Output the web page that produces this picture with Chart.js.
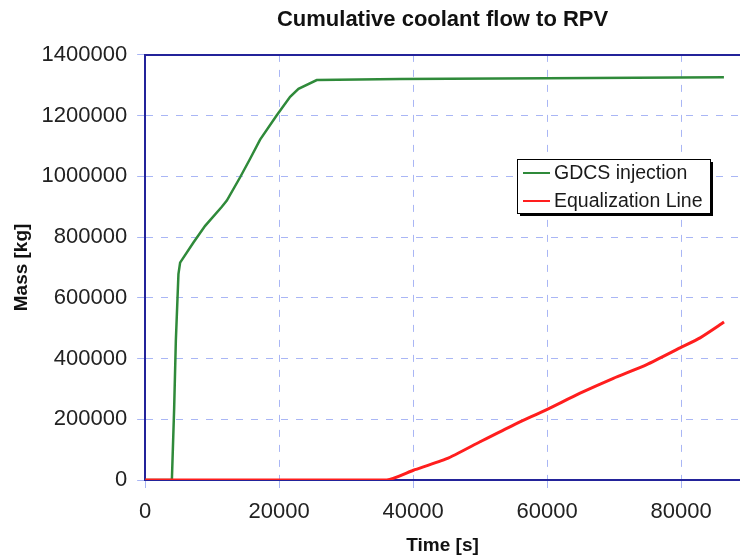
<!DOCTYPE html>
<html>
<head>
<meta charset="utf-8">
<script src="https://cdn.jsdelivr.net/npm/chart.js@4.4.1/dist/chart.umd.min.js"></script>
<style>
  body { margin: 0; background: #fff; overflow: hidden; }
  #wrap { width: 740px; height: 556px; }
</style>
</head>
<body>
<div id="wrap"><canvas id="flowChart" width="740" height="556"></canvas></div>
<script>
// GDCS injection (time [s], mass [kg])
const gdcsTime = [0, 3990, 4330, 4580, 4970, 5220, 7210, 8955, 11450, 12190, 14180, 15670, 17160, 19650, 21640, 22890, 25620, 38060, 60000, 86400];
const gdcsMass = [0, 0, 236000, 457000, 678000, 716000, 782000, 837000, 900000, 920000, 997000, 1058000, 1121000, 1201000, 1262000, 1288000, 1317000, 1321000, 1323000, 1326000];

// Equalization Line (time [s], mass [kg])
const eqTime = [0, 36070, 40050, 45030, 50000, 54970, 59950, 64930, 69900, 74880, 79850, 82840, 86420];
const eqMass = [0, 0, 32000, 70000, 126000, 181000, 232000, 286000, 335000, 380000, 435000, 468000, 520000];

const xTicks = [0, 20000, 40000, 60000, 80000];
const xMax = 88800;
const yMax = 1400000;
const yStep = 200000;

const fontFamily = '"Liberation Sans", Arial, Helvetica, sans-serif';
const gridBlue = '#a9b6f5';
const axisBlue = '#23239a';

function toPoints(xs, ys) {
    return xs.map((x, i) => ({ x: x, y: ys[i] }));
}

// top frame line + boxed legend inside the plot
const framePlugin = {
    id: 'frameAndLegend',
    afterDraw(chart) {
        const { ctx, chartArea } = chart;
        ctx.save();
        ctx.strokeStyle = axisBlue;
        ctx.lineWidth = 2;
        ctx.beginPath();
        ctx.moveTo(chartArea.left, chartArea.top);
        ctx.lineTo(chartArea.right, chartArea.top);
        ctx.stroke();

        const bx = 517, by = 159, bw = 193, bh = 54;
        ctx.fillStyle = '#000';
        ctx.fillRect(bx + 3, by + 3, bw, bh);
        ctx.fillStyle = '#fff';
        ctx.fillRect(bx, by, bw, bh);
        ctx.strokeStyle = '#000';
        ctx.lineWidth = 1;
        ctx.strokeRect(bx + 0.5, by + 0.5, bw, bh);

        ctx.font = '19.5px ' + fontFamily;
        ctx.textBaseline = 'middle';
        ctx.textAlign = 'left';
        chart.data.datasets.forEach((ds, i) => {
            const y = by + 14 + i * 28;
            ctx.strokeStyle = ds.borderColor;
            ctx.lineWidth = 2;
            ctx.beginPath();
            ctx.moveTo(bx + 6, y);
            ctx.lineTo(bx + 33, y);
            ctx.stroke();
            ctx.fillStyle = '#1a1a1a';
            ctx.fillText(ds.label, bx + 37, y + 1);
        });
        ctx.restore();
    }
};

const plainNumber = (value) => String(value);

const ctx = document.getElementById('flowChart').getContext('2d');
const chart = new Chart(ctx, {
    type: 'line',
    data: {
        datasets: [{
            label: 'GDCS injection',
            data: toPoints(gdcsTime, gdcsMass),
            borderColor: '#2f8a3a',
            borderWidth: 2.5,
            pointRadius: 0,
            tension: 0,
            order: 2
        }, {
            label: 'Equalization Line',
            data: toPoints(eqTime, eqMass),
            borderColor: '#ff1e1e',
            borderWidth: 3,
            pointRadius: 0,
            tension: 0.2,
            order: 1
        }]
    },
    options: {
        responsive: false,
        animation: false,
        layout: { padding: { left: 0, right: 0, top: 0, bottom: 0 } },
        scales: {
            x: {
                type: 'linear',
                min: 0,
                max: xMax,
                afterBuildTicks: (scale) => {
                    scale.ticks = xTicks.map(v => ({ value: v }));
                },
                ticks: {
                    autoSkip: false,
                    maxRotation: 0,
                    padding: 10.8,
                    color: '#222',
                    callback: plainNumber,
                    font: { family: fontFamily, size: 22 }
                },
                grid: {
                    color: gridBlue,
                    tickColor: gridBlue,
                    tickLength: 8,
                    lineWidth: 1
                },
                border: { color: axisBlue, width: 2, dash: [7, 8] },
                title: {
                    display: true,
                    text: 'Time [s]',
                    color: '#111',
                    padding: { top: 0, bottom: 1 },
                    font: { family: fontFamily, size: 19, weight: 'bold', lineHeight: 1.0 }
                }
            },
            y: {
                min: 0,
                max: yMax,
                ticks: {
                    stepSize: yStep,
                    padding: 10,
                    color: '#222',
                    callback: plainNumber,
                    font: { family: fontFamily, size: 22 }
                },
                grid: {
                    color: gridBlue,
                    tickColor: gridBlue,
                    tickLength: 8,
                    lineWidth: 1
                },
                border: { color: axisBlue, width: 2, dash: [7, 8] },
                title: {
                    display: true,
                    text: 'Mass [kg]',
                    color: '#111',
                    padding: { top: 12.5, bottom: 0 },
                    font: { family: fontFamily, size: 19, weight: 'bold', lineHeight: 1.0 }
                }
            }
        },
        plugins: {
            legend: { display: false },
            tooltip: { enabled: false },
            title: {
                display: true,
                fullSize: false,
                text: 'Cumulative coolant flow to RPV',
                color: '#111',
                padding: { top: 6.5, bottom: 22 },
                font: { family: fontFamily, size: 22, weight: 'bold', lineHeight: 1.2 }
            }
        }
    },
    plugins: [framePlugin]
});
</script>
</body>
</html>
